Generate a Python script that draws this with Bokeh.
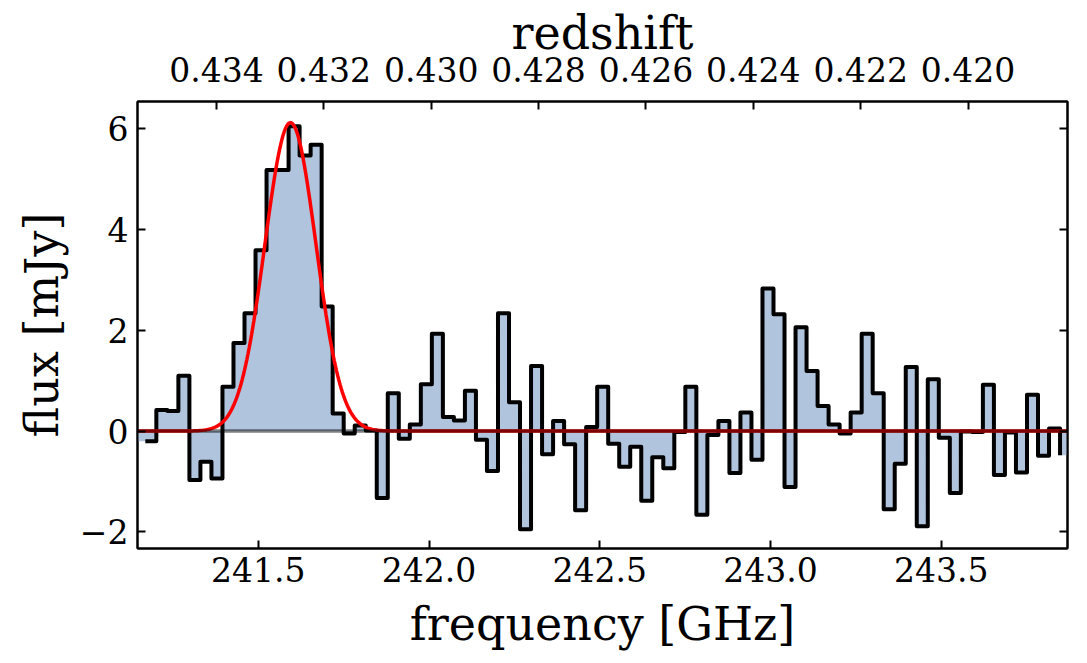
import numpy as np
from bokeh.plotting import figure
from bokeh.models import LinearAxis, FixedTicker, Span, Range1d, PrintfTickFormatter
from bokeh.embed import file_html
from bokeh.resources import INLINE

# ---- data -------------------------------------------------------------
chan_start_ghz = 241.1689      # frequency of first channel
chan_width_ghz = 0.03228       # channel width
flux_mjy = [
    -0.20, 0.42, 0.40, 1.10, -0.97, -0.61, -0.94, 0.88, 1.75, 2.34,
    3.59, 5.18, 5.18, 6.05, 5.47, 5.68, 2.47, 0.35, -0.05, 0.11,
    0.01, -1.33, 0.75, -0.15, 0.13, 0.93, 1.93, 0.28, 0.21, 0.80,
    -0.17, -0.79, 2.34, 0.57, -1.95, 1.29, -0.46, 0.20, -0.26, -1.57,
    0.08, 0.88, -0.25, -0.71, -0.31, -1.38, -0.52, -0.74, -0.02, 0.88,
    -1.66, -0.08, 0.20, -0.83, 0.37, -0.57, 2.83, 2.32, -1.11, 2.06,
    1.19, 0.50, 0.13, -0.05, 0.37, 1.93, 0.75, -1.55, -0.65, 1.27,
    -1.89, 1.03, -0.13, -1.23, -0.01, -0.02, 0.92, -0.87, -0.03, -0.82,
    0.72, -0.49, 0.05, -0.48,
]
freq_ghz = chan_start_ghz + chan_width_ghz * np.arange(len(flux_mjy))

# Gaussian fit parameters
fit_amp_mjy = 6.12
fit_center_ghz = 241.594
fit_sigma_ghz = 0.0747

x_limits = (241.146, 243.870)
y_limits = (-2.33, 6.54)
freq_ticks = [241.5, 242.0, 242.5, 243.0, 243.5]
flux_ticks = [-2, 0, 2, 4, 6]
flux_tick_labels = {-2: "\u22122", 0: "0", 2: "2", 4: "4", 6: "6"}
z_ticks = [0.434, 0.432, 0.430, 0.428, 0.426, 0.424, 0.422, 0.420]
# redshift axis calibration (frequency at z=0.434 and dnu/dz)
z_ref, nu_at_z_ref, dnu_dz = 0.434, 241.3772, -157.26

# ---- derived ----------------------------------------------------------
flux = np.array(flux_mjy)
fill_x = np.concatenate([[freq_ghz[0] - chan_width_ghz], freq_ghz, [freq_ghz[-1] + chan_width_ghz]])
fill_y = np.concatenate([[flux[0]], flux, [flux[-1]]])
model_x = np.linspace(x_limits[0], x_limits[1], 800)
model_y = fit_amp_mjy * np.exp(-0.5 * ((model_x - fit_center_ghz) / fit_sigma_ghz) ** 2)
z_tick_pos = [round(nu_at_z_ref + (z - z_ref) * dnu_dz, 6) for z in z_ticks]

FONT = "DejaVu Serif"

p = figure(frame_width=930, frame_height=447,
           x_range=Range1d(*x_limits), y_range=Range1d(*y_limits),
           output_backend="svg", toolbar_location=None,
           min_border_left=137, min_border_right=12,
           min_border_top=101, min_border_bottom=100)
p.xgrid.visible = False
p.ygrid.visible = False
p.outline_line_color = "black"
p.outline_line_width = 2
p.background_fill_color = "white"
p.border_fill_color = "white"

p.varea_step(x=fill_x, y1=0, y2=fill_y, step_mode="after", fill_color="#B0C4DE")
p.step(x=freq_ghz, y=flux, mode="after", line_color="black", line_width=4, line_join="round")
p.line(model_x, model_y, line_color="red", line_width=3.5)
p.add_layout(Span(location=0, dimension="width", line_color="black", line_alpha=0.5, line_width=3.5))

right_ax = LinearAxis()
top_ax = LinearAxis()
p.add_layout(right_ax, "right")
p.add_layout(top_ax, "above")

bx = p.below[0]
ly = p.left[0]

def style(ax):
    ax.axis_line_width = 2
    ax.major_tick_line_width = 2
    ax.major_tick_in = 8
    ax.major_tick_out = 0
    ax.minor_tick_line_color = None
    ax.major_label_text_font = FONT
    ax.major_label_text_font_size = "33px"
    ax.major_label_text_color = "black"
    ax.axis_label_text_font = FONT
    ax.axis_label_text_font_size = "46px"
    ax.axis_label_text_font_style = "normal"
    ax.axis_label_text_color = "black"

for ax in [bx, ly, right_ax, top_ax]:
    style(ax)

bx.ticker = FixedTicker(ticks=freq_ticks)
bx.formatter = PrintfTickFormatter(format="%.1f")
bx.axis_label = "frequency [GHz]"
bx.major_label_standoff = 8
bx.axis_label_standoff = 12

ly.ticker = FixedTicker(ticks=flux_ticks)
ly.major_label_overrides = flux_tick_labels
ly.axis_label = "flux [mJy]"
ly.major_label_standoff = 9
ly.axis_label_standoff = 8

right_ax.ticker = FixedTicker(ticks=flux_ticks)
right_ax.major_label_overrides = {t: "" for t in flux_ticks}
right_ax.major_label_standoff = 0

top_ax.ticker = FixedTicker(ticks=z_tick_pos)
top_ax.major_label_overrides = {pos: f"{z:.3f}" for pos, z in zip(z_tick_pos, z_ticks)}
top_ax.axis_label = "redshift"
top_ax.major_label_standoff = 20
top_ax.axis_label_standoff = -6

open("out.html", "w").write(file_html(p, INLINE))
